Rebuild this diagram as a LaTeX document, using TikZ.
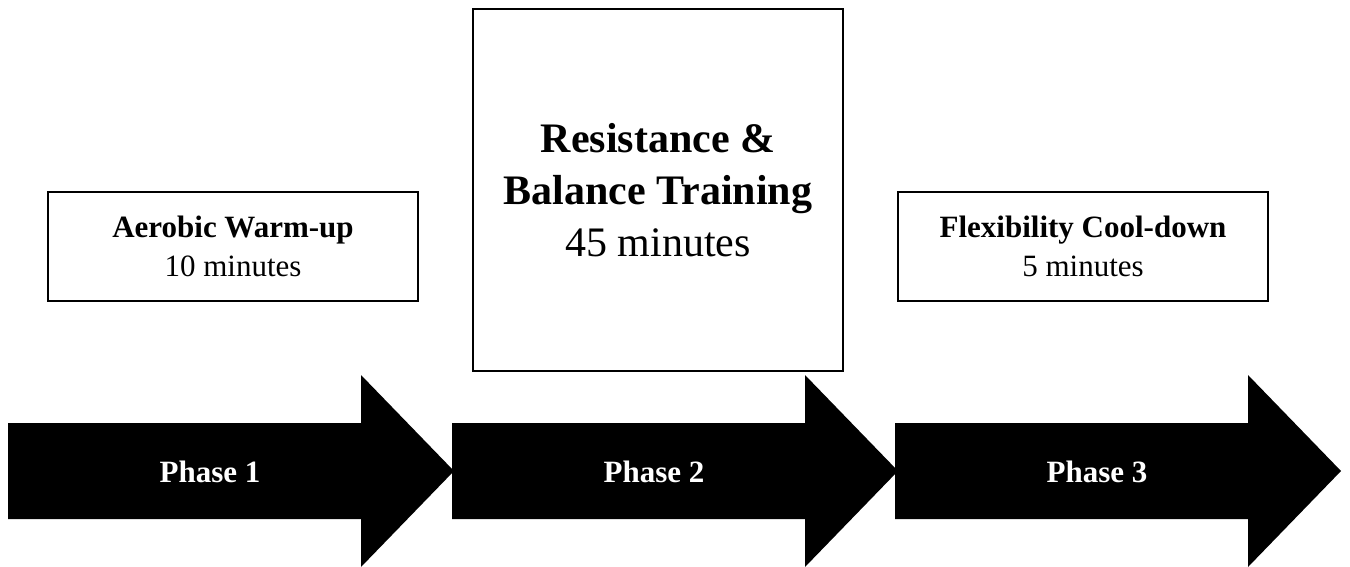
\documentclass[tikz,border=0pt]{standalone}
\usepackage{fontspec}
\setmainfont{Liberation Serif}
\begin{document}
\begin{tikzpicture}[x=1pt,y=-1pt,
  phasebox/.style={draw,line width=1.2pt,minimum width=370pt,align=center,inner sep=0pt},
  phasearrow/.style={fill=black},
  phaselabel/.style={text=white,font=\fontsize{31}{39}\selectfont\bfseries}]
  \useasboundingbox (0,0) rectangle (1350,567);
  \foreach \s/\n in {8/1,452/2,895/3} {
    \fill[phasearrow] (\s,423) -- (\s+353,423) -- (\s+353,375) -- (\s+446,471)
      -- (\s+353,567) -- (\s+353,519) -- (\s,519) -- cycle;
    \node[phaselabel] (phase\n) at (\s+202,472) {Phase \n};
  }
  \node[phasebox,minimum height=109pt,font=\fontsize{31}{39}\selectfont] (warmup) at (233,246.5) {\textbf{Aerobic Warm-up}\\10 minutes};
  \node[phasebox,minimum height=362pt,font=\fontsize{42}{52}\selectfont] (training) at (658,190) {\textbf{Resistance \&}\\\textbf{Balance Training}\\45 minutes};
  \node[phasebox,minimum height=109pt,font=\fontsize{31}{39}\selectfont] (cooldown) at (1083,246.5) {\textbf{Flexibility Cool-down}\\5 minutes};
\end{tikzpicture}
\end{document}
